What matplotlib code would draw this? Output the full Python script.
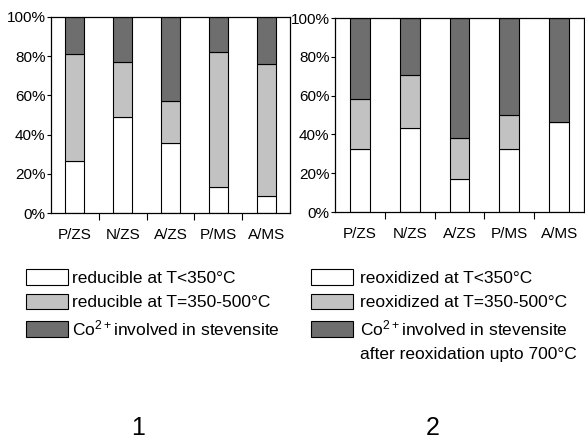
import matplotlib
matplotlib.use("Agg")
import matplotlib.pyplot as plt
import numpy as np

plt.rcParams['font.family'] = ['Liberation Sans', 'DejaVu Sans']
plt.rcParams['mathtext.fontset'] = 'custom'
plt.rcParams['mathtext.rm'] = 'Liberation Sans'
plt.rcParams['mathtext.default'] = 'regular'

# samples (same for both panels)
samples = ['P/ZS', 'N/ZS', 'A/ZS', 'P/MS', 'A/MS']

# panel 1 - reduction (% of Co)
red_low = [26.5, 48.8, 35.8, 13.5, 8.7]      # reducible at T<350
red_mid = [54.7, 28.2, 21.4, 68.4, 67.2]     # reducible at T=350-500
red_stev = [18.8, 23.0, 42.8, 18.1, 24.1]    # Co2+ in stevensite

# panel 2 - reoxidation (% of Co)
reox_low = [32.4, 43.1, 16.9, 32.4, 46.2]
reox_mid = [25.7, 27.6, 21.0, 17.6, 0.0]
reox_stev = [41.9, 29.3, 62.1, 50.0, 53.8]

labels1 = ['reducible at T<350°C', 'reducible at T=350-500°C',
           'Co$^{2+}$involved in stevensite']
labels2 = ['reoxidized at T<350°C', 'reoxidized at T=350-500°C',
           'Co$^{2+}$involved in stevensite']

colors = ['white', '#c2c2c2', '#6e6e6e']

W, H = 585, 440
fig = plt.figure(figsize=(W / 100, H / 100), dpi=100)


def px_axes(x0, y0, x1, y1):
    # box given in pixels from the top-left corner
    return fig.add_axes([x0 / W, 1 - y1 / H, (x1 - x0) / W, (y1 - y0) / H])


def stacked(ax, parts):
    x = np.arange(len(samples))
    bottom = np.zeros(len(samples))
    bars = []
    for vals, c in zip(parts, colors):
        b = ax.bar(x, vals, 0.4, bottom=bottom, color=c, edgecolor='black', linewidth=0.8)
        bars.append(b)
        bottom = bottom + np.array(vals)
    ax.set_xlim(-0.5, len(samples) - 0.5)
    ax.set_ylim(0, 100)
    ax.set_yticks(np.arange(0, 101, 20))
    ax.set_yticklabels(['%d%%' % v for v in range(0, 101, 20)])
    ax.set_xticks(x)
    ax.set_xticklabels(samples)
    ax.set_xticks(np.arange(0.5, len(samples) - 1, 1), minor=True)
    ax.tick_params(axis='x', which='major', length=0, pad=11, labelsize=11)
    ax.tick_params(axis='x', which='minor', length=5, direction='out', width=0.8)
    ax.tick_params(axis='y', length=3, direction='out', pad=1, labelsize=11, width=0.8)
    for s in ax.spines.values():
        s.set_linewidth(0.9)
    return bars


ax1 = px_axes(51, 17, 290, 213)
bars1 = stacked(ax1, [red_low, red_mid, red_stev])
ax2 = px_axes(335, 18, 584, 212)
bars2 = stacked(ax2, [reox_low, reox_mid, reox_stev])

leg_kw = dict(loc='upper left', frameon=False, fontsize=12.5, borderpad=0,
              borderaxespad=0, handlelength=2.4, handleheight=1.0,
              labelspacing=0.45, bbox_transform=fig.transFigure)
fig.legend([b[0] for b in bars1], labels1, bbox_to_anchor=(26 / W, 1 - 269 / H),
           handletextpad=0.25, **leg_kw)
fig.legend([b[0] for b in bars2], labels2, bbox_to_anchor=(311 / W, 1 - 269 / H),
           handletextpad=0.45, **leg_kw)
fig.text(360 / W, 1 - 355 / H, 'after reoxidation upto 700°C', fontsize=12.5, va='center')

fig.text(138 / W, 1 - 434.5 / H, '1', fontsize=18, ha='center', va='baseline')
fig.text(433 / W, 1 - 434.5 / H, '2', fontsize=18, ha='center', va='baseline')

fig.savefig('out.png', dpi=100)
